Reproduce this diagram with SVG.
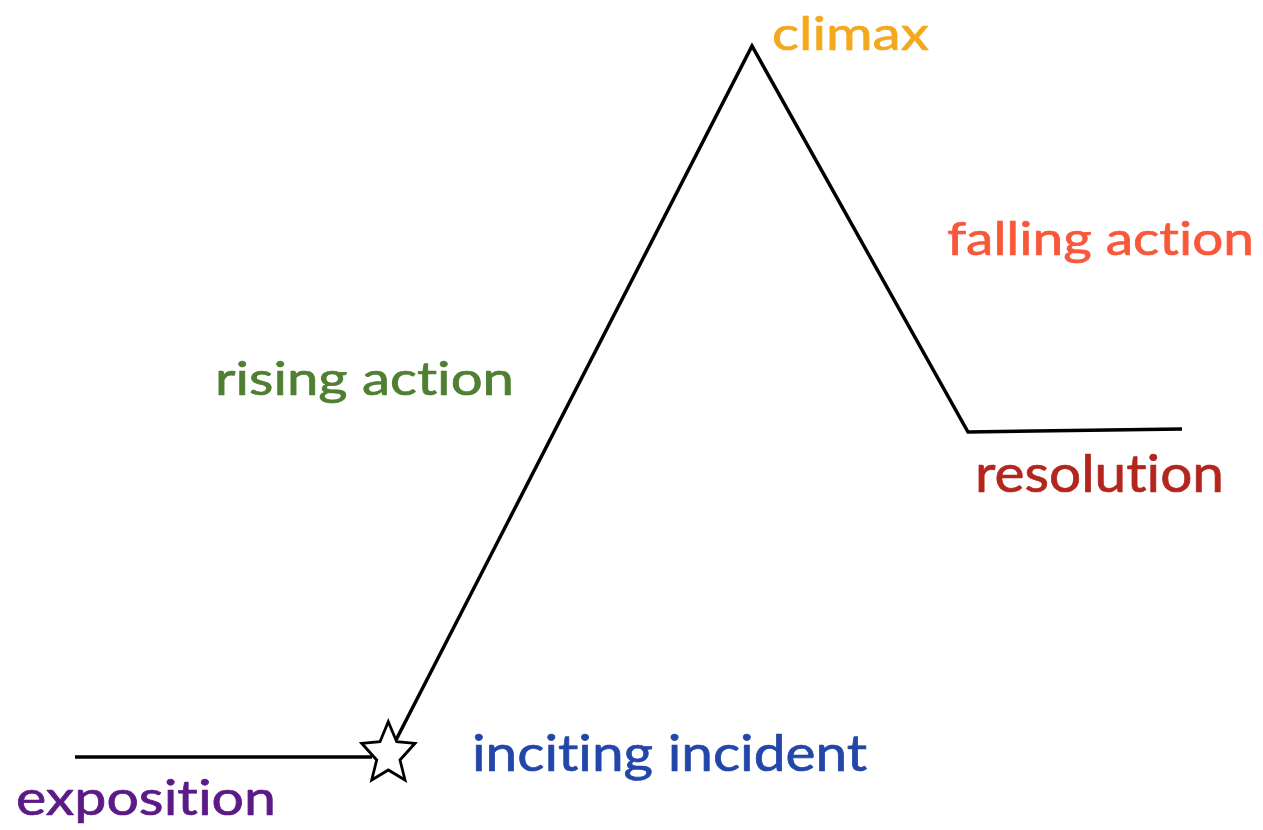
<svg xmlns="http://www.w3.org/2000/svg" width="1263" height="830" viewBox="0 0 1263 830">
<style>
.lbl{font-family:Lato,"Open Sans",sans-serif;font-variant-ligatures:none;font-feature-settings:"liga" 0,"clig" 0;stroke-width:0.7;stroke-linejoin:round}
.ln{fill:none;stroke:#000;stroke-width:3.5;stroke-linejoin:miter}
</style>
<rect width="1263" height="830" fill="#fff"/>
<g id="connectors">
<path class="ln" d="M75,757 H372"/>
<path class="ln" d="M396,740 L752,46 L968,432 L1182,429"/>
</g>
<g id="star"><polygon points="388.3,721.7 396.7,741.7 415,743.3 400,760 405,780 388.3,770 371.7,780 376.7,760 361.7,743.3 380,741.7" fill="#fff" stroke="#000" stroke-width="2.8" stroke-linejoin="miter"/></g>
<g id="climax"><text class="lbl" x="772" y="50" font-size="47" textLength="157" lengthAdjust="spacingAndGlyphs" fill="#f4a81d" stroke="#f4a81d">climax</text></g>
<g id="falling"><text class="lbl" x="947" y="255" font-size="47" textLength="307" lengthAdjust="spacingAndGlyphs" fill="#f9573a" stroke="#f9573a">falling action</text></g>
<g id="rising"><text class="lbl" x="215" y="395" font-size="46" textLength="299" lengthAdjust="spacingAndGlyphs" fill="#4e7f32" stroke="#4e7f32">rising action</text></g>
<g id="resolution"><text class="lbl" x="975" y="492" font-size="53" textLength="249" lengthAdjust="spacingAndGlyphs" fill="#b3261e" stroke="#b3261e">resolution</text></g>
<g id="inciting"><text class="lbl" x="472" y="771" font-size="51" textLength="395" lengthAdjust="spacingAndGlyphs" fill="#2247a8" stroke="#2247a8">inciting incident</text></g>
<g id="exposition"><text class="lbl" x="16" y="815" font-size="48" textLength="260" lengthAdjust="spacingAndGlyphs" fill="#5b1a86" stroke="#5b1a86">exposition</text></g>
</svg>
